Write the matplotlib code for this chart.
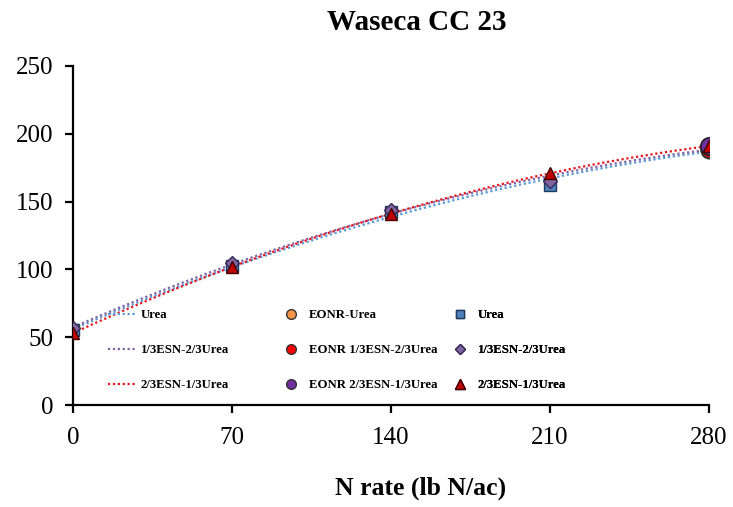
import numpy as np
import matplotlib.pyplot as plt
from matplotlib.lines import Line2D

plt.rcParams['font.family'] = ['Liberation Serif', 'DejaVu Serif']

n_rate = [0, 70, 140, 210, 280]
urea = [55, 102.5, 142, 162, 189]
esn13 = [56.5, 104.5, 143.5, 165, 190]
esn23 = [53, 102, 141, 171, 191]

eonr_x = [280, 280, 280]
eonr_y = [188, 189, 191]

fig = plt.figure(figsize=(7.33, 5.07), dpi=100)
ax = fig.add_axes([73 / 733, 1 - 405 / 507, 636 / 733, 339 / 507])

c_urea_line = '#5B9BD5'
c_13_line = '#8064A2'
c_23_line = '#E8141B'

xs = np.linspace(0, 280, 200)
for yv, col in [(urea, c_urea_line), (esn13, c_13_line), (esn23, c_23_line)]:
    p = np.polyfit(n_rate, yv, 2)
    ax.plot(xs, np.polyval(p, xs), color=col, lw=1.6, ls=(0, (1, 1.2)), zorder=2)

# observed means
ax.plot(n_rate, urea, 's', color='#4F81BD', mec='#1F3A5F', mew=1.0, ms=8.5, zorder=3)
ax.plot(n_rate, esn13, 'D', color='#8064A2', mec='#3A2A55', mew=1.0, ms=7.5, zorder=4)
ax.plot(n_rate, esn23, '^', color='#C00000', mec='#400000', mew=1.0, ms=9, zorder=6)

# EONR points
ax.plot(eonr_x[0], eonr_y[0], 'o', color='#F79646', mec='#333333', ms=12, zorder=5)
ax.plot(eonr_x[1], eonr_y[1], 'o', color='#FF0000', mec='#333333', ms=12, zorder=5)
ax.plot(eonr_x[2], eonr_y[2], 'o', color='#7030A0', mec='#222222', mew=1.2, ms=12.5, zorder=5)

ax.set_xlim(0, 280)
ax.set_ylim(0, 250)
ax.set_xticks(n_rate)
ax.set_yticks([0, 50, 100, 150, 200, 250])
ax.spines['top'].set_visible(False)
ax.spines['right'].set_visible(False)
for s in ['left', 'bottom']:
    ax.spines[s].set_linewidth(1.6)
    ax.spines[s].set_clip_on(False)
ax.tick_params(direction='out', length=6, width=1.6, labelsize=18)
ax.tick_params(axis='y', pad=8)
ax.tick_params(axis='x', pad=10)

fig.text(417 / 733, 1 - 22 / 507, 'Waseca CC 23', ha='center', va='center',
         fontsize=21, fontweight='bold')
fig.text(421 / 733, 1 - 488 / 507, 'N rate (lb N/ac)', ha='center', va='center',
         fontsize=18.5, fontweight='bold')

leg_font = {'size': 9.2, 'weight': 'bold'}
col1 = [Line2D([], [], color=c, lw=1.6, ls=(0, (1, 1.2))) for c in (c_urea_line, c_13_line, c_23_line)]
col2 = [Line2D([], [], ls='none', marker='o', ms=7, color=c, mec='#333333')
        for c in ('#F79646', '#FF0000', '#7030A0')]
col3 = [Line2D([], [], ls='none', marker='s', ms=6, color='#4F81BD', mec='#1F3A5F'),
        Line2D([], [], ls='none', marker='D', ms=5.5, color='#8064A2', mec='#3A2A55'),
        Line2D([], [], ls='none', marker='^', ms=7, color='#C00000', mec='#400000')]
labels1 = ['Urea', '1/3ESN-2/3Urea', '2/3ESN-1/3Urea']
labels2 = ['EONR-Urea', 'EONR 1/3ESN-2/3Urea', 'EONR 2/3ESN-1/3Urea']
labels3 = ['Urea', '1/3ESN-2/3Urea', '2/3ESN-1/3Urea']

for handles, labels, x0 in [(col1, labels1, 108), (col2, labels2, 276), (col3, labels3, 445)]:
    leg = ax.legend(handles, labels, loc='center left',
                    bbox_to_anchor=((x0 - 73) / 636, (405 - 350) / 339),
                    frameon=False, prop=leg_font, borderpad=0, borderaxespad=0,
                    handlelength=2.3, handletextpad=0.25, labelspacing=1.8)
    ax.add_artist(leg)

fig.savefig('out.png', dpi=100)
